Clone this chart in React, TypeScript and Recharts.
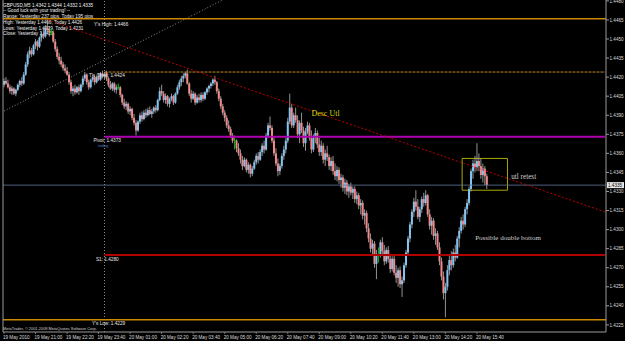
import React from "react";
import {
  ComposedChart,
  Bar,
  XAxis,
  YAxis,
  ReferenceLine,
  ReferenceDot,
  ReferenceArea,
} from "recharts";

// GBPUSD M5 candles, values in pips above 1.4200: [open, high, low, close]
const BASE = 1.42;
const PIP = 0.0001;

const eveningBars19May = [
  [214, 219, 212, 217], [217, 220, 214, 215], [215, 218, 211, 212], [212, 214, 207, 209], [209, 213, 206, 211],
  [211, 212, 206, 207], [207, 211, 205, 210], [210, 215, 209, 214], [214, 218, 212, 217], [217, 220, 213, 215],
  [215, 224, 214, 222], [222, 232, 221, 230], [230, 240, 228, 238], [238, 244, 235, 241], [241, 243, 236, 238],
  [238, 246, 237, 245], [245, 250, 242, 248], [248, 249, 241, 244], [244, 252, 243, 251], [251, 256, 248, 254],
  [254, 259, 250, 252], [252, 261, 251, 259], [259, 266, 255, 257], [257, 260, 252, 255], [255, 258, 253, 255],
  [255, 256, 247, 248], [248, 250, 240, 242], [242, 244, 234, 236], [236, 239, 230, 233], [233, 236, 228, 230],
  [230, 232, 225, 227], [227, 230, 223, 225], [225, 228, 221, 222], [222, 224, 214, 216], [216, 218, 207, 209],
  [209, 213, 205, 211], [211, 214, 206, 208], [208, 213, 207, 212], [212, 214, 206, 209], [209, 215, 208, 214],
  [214, 221, 212, 219], [219, 224, 217, 222], [222, 223, 214, 216], [216, 218, 210, 212], [212, 219, 211, 218],
  [218, 222, 216, 220], [220, 221, 214, 216], [216, 221, 215, 220], [220, 223, 217, 218], [218, 224, 217, 223],
  [223, 225, 219, 221], [221, 224, 218, 222],
];

const asiaBars20May = [
  [224, 225, 217, 219], [219, 220, 212, 214], [214, 217, 210, 211], [211, 216, 209, 215], [215, 216, 208, 210],
  [210, 214, 207, 212], [212, 215, 210, 212], [212, 213, 204, 206],
  [206, 207, 198, 200], [200, 203, 195, 197], [197, 201, 194, 199], [199, 200, 191, 193], [193, 197, 190, 195],
  [195, 196, 186, 188], [188, 191, 182, 184], [184, 186, 174, 178], [178, 186, 177, 185], [185, 192, 183, 190],
  [190, 193, 185, 187], [187, 194, 186, 192], [192, 195, 188, 190], [190, 196, 189, 194], [194, 197, 190, 191],
  [191, 195, 188, 193], [193, 197, 191, 196], [196, 198, 192, 194], [194, 203, 193, 202], [202, 212, 201, 209],
  [209, 214, 205, 207], [207, 209, 200, 202], [202, 207, 199, 205], [205, 206, 197, 199], [199, 204, 196, 203],
  [203, 207, 201, 205], [205, 206, 198, 200], [200, 208, 199, 207], [207, 214, 206, 212], [212, 218, 210, 216],
  [216, 221, 213, 219], [219, 223, 216, 221], [221, 224, 219, 223], [223, 226, 214, 215], [215, 216, 205, 207],
  [207, 210, 200, 203], [203, 209, 202, 207], [207, 208, 198, 200], [200, 206, 199, 204], [204, 207, 200, 202],
  [202, 208, 200, 206], [206, 208, 201, 203], [203, 209, 202, 208], [208, 212, 206, 211], [211, 214, 208, 213],
  [213, 216, 211, 215], [215, 219, 213, 218], [218, 221, 214, 216], [216, 217, 207, 209], [209, 211, 201, 203],
  [203, 205, 195, 197], [197, 199, 190, 192], [192, 194, 185, 188], [188, 190, 180, 182], [182, 186, 177, 179],
  [179, 181, 172, 174], [174, 176, 168, 170], [170, 174, 163, 170], [170, 171, 161, 164], [164, 168, 158, 160],
];

const londonBars20May = [
  [160, 163, 152, 155], [155, 158, 147, 150], [150, 157, 149, 155], [155, 156, 145, 147], [147, 153, 144, 151],
  [151, 152, 141, 144], [144, 150, 142, 148], [148, 155, 147, 153], [153, 160, 151, 158], [158, 161, 152, 155],
  [155, 163, 154, 161], [161, 168, 158, 166], [166, 170, 160, 163], [163, 176, 162, 174], [174, 184, 172, 182],
  [182, 189, 178, 180], [180, 182, 168, 170], [170, 173, 158, 160], [160, 164, 150, 152], [152, 156, 142, 146],
  [146, 152, 143, 150], [150, 160, 148, 158], [158, 166, 155, 163], [163, 172, 160, 170], [170, 188, 168, 185],
  [185, 207, 183, 196], [196, 199, 180, 182], [182, 192, 180, 190], [190, 196, 184, 186], [186, 190, 172, 175],
  [175, 186, 168, 184], [184, 192, 176, 178], [178, 181, 165, 168], [168, 180, 162, 177], [177, 185, 175, 182],
  [182, 184, 170, 172], [172, 178, 160, 163], [163, 175, 161, 172], [172, 180, 168, 176], [176, 178, 164, 167],
  [167, 172, 158, 161], [161, 170, 158, 166], [166, 168, 152, 155], [155, 163, 150, 160], [160, 166, 154, 157],
  [157, 159, 147, 150], [150, 157, 146, 154], [154, 158, 143, 146], [146, 152, 139, 142], [142, 150, 138, 147],
  [147, 149, 136, 139], [139, 144, 133, 141], [141, 143, 130, 133], [133, 140, 128, 137], [137, 139, 127, 130],
  [130, 136, 125, 134], [134, 137, 127, 129], [129, 134, 124, 132], [132, 134, 121, 124], [124, 130, 120, 127],
  [127, 129, 116, 119], [119, 124, 112, 121], [121, 123, 108, 111], [111, 116, 104, 113], [113, 115, 98, 101],
  [101, 105, 90, 93], [93, 97, 82, 85], [85, 92, 80, 89], [89, 91, 70, 73], [73, 84, 61, 80],
  [80, 86, 74, 80], [80, 92, 78, 90], [90, 94, 80, 83], [83, 88, 72, 75], [75, 86, 73, 84],
  [84, 87, 74, 77], [77, 81, 66, 69], [69, 79, 67, 77], [77, 80, 64, 66], [66, 72, 58, 62],
];

const nyBars20May = [
  [62, 70, 55, 68], [68, 71, 54, 57], [57, 63, 47, 60], [60, 74, 58, 72], [72, 84, 70, 82],
  [82, 95, 80, 93], [93, 106, 90, 104], [104, 116, 101, 114], [114, 125, 110, 122], [122, 131, 115, 118],
  [118, 124, 108, 110], [110, 118, 106, 116], [116, 126, 113, 124], [124, 129, 118, 121], [121, 131, 119, 127],
  [127, 128, 110, 112], [112, 116, 100, 103], [103, 110, 96, 107], [107, 109, 92, 95], [95, 101, 88, 97],
  [97, 99, 84, 86], [86, 90, 72, 75], [75, 78, 60, 63], [63, 67, 45, 50], [50, 58, 31, 55],
  [55, 72, 52, 68], [68, 80, 64, 76], [76, 83, 68, 72], [72, 85, 70, 82], [82, 88, 75, 78],
  [78, 95, 77, 93], [93, 102, 86, 99], [99, 110, 97, 107], [107, 112, 100, 104], [104, 118, 102, 116],
  [116, 124, 112, 121], [121, 134, 119, 132], [132, 148, 130, 146], [146, 155, 140, 152], [152, 158, 145, 149],
  [149, 168, 146, 154], [154, 160, 146, 150], [150, 156, 140, 143], [143, 152, 137, 148], [148, 150, 135, 142],
  [142, 144, 132, 135],
];

const totalSlots = 306; // bars + empty right-hand shift

const timeTicks = [0, 16, 32, 48, 64, 80, 96, 112, 128, 144, 160, 176, 192, 208, 224, 240];
const timeLabels = [
  "19 May 2010", "19 May 21:00", "19 May 22:20", "19 May 23:40", "20 May 01:00", "20 May 02:20",
  "20 May 03:40", "20 May 05:00", "20 May 06:20", "20 May 07:40", "20 May 09:00", "20 May 10:20",
  "20 May 11:40", "20 May 13:00", "20 May 14:20", "20 May 15:40",
];

const priceTicks = [
  1.4225, 1.424, 1.4255, 1.427, 1.4285, 1.43, 1.4315, 1.433, 1.4345, 1.436, 1.4375, 1.439,
  1.4405, 1.442, 1.4435, 1.445, 1.4465, 1.448,
];
const priceDomain = [1.42194, 1.44807];

const yesterdayHigh = 1.4466;
const yesterdayLow = 1.4229;
const todayOpen = 1.4424;
const pivot = 1.4373;
const s1 = 1.428;
const lastPrice = 1.4335;
const todayStart = 51;
const lastSlot = 305;

const descTrend = [{ x: 22, y: 1.4465 }, { x: 305, y: 1.43139 }];
const grayTrend = [{ x: 0, y: 1.43933 }, { x: 111, y: 1.44807 }];
const retestBox = { x1: 233, x2: 255, y1: 1.4331, y2: 1.4356 };

const infoLines = [
  "GBPUSD,M5  1.4342 1.4344 1.4332 1.4335",
  "-- Good luck with your trading! --",
  "Range: Yesterday 237 pips, Today 195 pips",
  "High: Yesterday 1.4466, Today 1.4426",
  "Lows: Yesterday 1.4229, Today 1.4231",
  "Close: Yesterday 1.4425",
];

const allBars = [...eveningBars19May, ...asiaBars20May, ...londonBars20May, ...nyBars20May];
const data = Array.from({ length: totalSlots }, (_, i) => {
  const b = allBars[i];
  if (!b) return { i };
  return { i, o: BASE + b[0] * PIP, h: BASE + b[1] * PIP, l: BASE + b[2] * PIP, c: BASE + b[3] * PIP };
});

const SANS = "Liberation Sans, Arial, sans-serif";
const SERIF = "Liberation Serif, Times New Roman, serif";
const BULL = "#84c4f2";
const BEAR = "#f28a8a";
const DOJI = "#00c000";
const WICK = "#b8b8b8";
const FRAME = "#9a9a9a";

function Candle(props: any) {
  const { x, y, width, height, payload } = props;
  if (!payload || payload.h == null) return null;
  const { o, h, l, c } = payload;
  const top = Math.min(y, y + height);
  const hh = Math.abs(height);
  const k = h - l > 0 ? hh / (h - l) : 0;
  const cx = x + width / 2;
  const bTop = top + (h - Math.max(o, c)) * k;
  const bBot = top + (h - Math.min(o, c)) * k;
  if (o === c) {
    return (
      <g>
        <line x1={cx} x2={cx} y1={top} y2={top + hh} stroke={DOJI} strokeWidth={1} />
        <line x1={cx - 1} x2={cx + 1} y1={bTop} y2={bTop} stroke={DOJI} strokeWidth={0.8} />
      </g>
    );
  }
  return (
    <g>
      <line x1={cx} x2={cx} y1={top} y2={top + hh} stroke={WICK} strokeWidth={0.8} />
      <rect x={cx - 1} y={bTop} width={2} height={Math.max(0.8, bBot - bTop)} fill={c > o ? BULL : BEAR} />
    </g>
  );
}

const noteShape =
  (text: string, dx: number, dy: number, fill: string, size: number, family: string) =>
  (p: any) =>
    (
      <text x={p.cx + dx} y={p.cy + dy} fill={fill} fontSize={size} fontFamily={family}>
        {text}
      </text>
    );

function TimeTick(props: any) {
  const { x, y, payload } = props;
  const idx = timeTicks.indexOf(payload.value);
  if (idx < 0) return null;
  return (
    <g>
      <line x1={x} x2={x} y1={y} y2={y + 2} stroke={FRAME} strokeWidth={0.7} />
      <text x={x - 1} y={y + 7} fontSize={4.6} fill="#dcdcdc" fontFamily={SANS}>
        {timeLabels[idx]}
      </text>
    </g>
  );
}

const PriceTag = (props: any) => {
  const vb = props.viewBox;
  const x = vb.x + vb.width + 1;
  return (
    <g>
      <rect x={x} y={vb.y - 3} width={17} height={6} fill="#e6e6e6" />
      <text x={x + 1} y={vb.y + 1.7} fontSize={4.6} fill="#000" fontFamily={SANS}>
        {lastPrice.toFixed(4)}
      </text>
    </g>
  );
};

export default function App() {
  return (
    <div style={{ position: "absolute", left: 0, top: 0, width: 625, height: 341, background: "#000", overflow: "hidden" }}>
      <svg width={625} height={341} style={{ position: "absolute", left: 0, top: 0 }}>
        {infoLines.map((t, k) => (
          <text key={k} x={3} y={6.7 + k * 5.7} fontSize={4.7} fill="#f0f0f0" fontFamily={SANS}>
            {t}
          </text>
        ))}
        <text x={3} y={329.8} fontSize={3.9} fill="#d0d0d0" fontFamily={SANS}>
          MetaTrader, © 2001-2009 MetaQuotes Software Corp.
        </text>
      </svg>
      <div style={{ position: "absolute", left: 0, top: 0 }}>
        <ComposedChart
          width={625}
          height={341}
          data={data}
          margin={{ top: 0, right: 0, bottom: 0, left: 1 }}
          barCategoryGap={0}
          barGap={0}
        >
          <XAxis
            dataKey="i"
            type="category"
            ticks={timeTicks}
            interval={0}
            height={9}
            tickSize={0}
            tickMargin={0}
            tickLine={false}
            axisLine={{ stroke: FRAME }}
            tick={<TimeTick />}
          />
          <YAxis yAxisId="frame" orientation="left" width={2} domain={[0, 1]} tick={false} tickLine={false} axisLine={{ stroke: FRAME }} />
          <YAxis
            yAxisId="p"
            orientation="right"
            width={19}
            type="number"
            domain={priceDomain}
            allowDataOverflow
            ticks={priceTicks}
            interval={0}
            tickSize={3}
            tickMargin={0.5}
            tickLine={{ stroke: FRAME }}
            axisLine={{ stroke: FRAME }}
            tickFormatter={(v: number) => v.toFixed(4)}
            tick={{ fontSize: 4.6, fill: "#dcdcdc", fontFamily: SANS, textAnchor: "start" }}
          />
          <ReferenceLine yAxisId="p" x={todayStart} stroke="#8c8c8c" strokeDasharray="1 2" />
          <ReferenceLine yAxisId="p" segment={grayTrend} stroke="#8a8a8a" strokeDasharray="1 2" />
          <ReferenceDot yAxisId="p" x={todayStart} y={yesterdayHigh} r={1} shape={noteShape("Y's High: 1.4466", -10.5, 7, "#e8e8e8", 4.7, SANS)} />
          <ReferenceDot yAxisId="p" x={todayStart} y={todayOpen} r={1} shape={noteShape("T's Open: 1.4424", -15.5, 4.5, "#e8e8e8", 4.7, SANS)} />
          <ReferenceDot yAxisId="p" x={todayStart} y={pivot} r={1} shape={noteShape("Pivot: 1.4373", -11, 4.8, "#e8e8e8", 4.7, SANS)} />
          <ReferenceDot yAxisId="p" x={todayStart} y={pivot} r={1} shape={noteShape("today", -6.5, 10.5, "#4a7fc0", 4.3, SANS)} />
          <ReferenceDot yAxisId="p" x={todayStart} y={s1} r={1} shape={noteShape("S1: 1.4280", -8.5, 5.5, "#e8e8e8", 4.7, SANS)} />
          <ReferenceDot yAxisId="p" x={todayStart} y={yesterdayLow} r={1} shape={noteShape("Y's Low: 1.4229", -12.5, 5.6, "#e8e8e8", 4.7, SANS)} />
          <Bar
            yAxisId="p"
            dataKey={(d: any) => (d.h == null ? undefined : [d.l, d.h])}
            shape={<Candle />}
            isAnimationActive={false}
          />
          <ReferenceLine yAxisId="p" y={yesterdayHigh} stroke="#cc8800" strokeWidth={1.5} />
          <ReferenceLine yAxisId="p" y={yesterdayLow} stroke="#cc8800" strokeWidth={1.5} />
          <ReferenceLine
            yAxisId="p"
            segment={[{ x: todayStart, y: todayOpen }, { x: lastSlot, y: todayOpen }]}
            stroke="#c08a20"
            strokeDasharray="3 1"
          />
          <ReferenceLine
            yAxisId="p"
            segment={[{ x: todayStart, y: pivot }, { x: lastSlot, y: pivot }]}
            stroke="#b000b0"
            strokeWidth={2}
          />
          <ReferenceLine
            yAxisId="p"
            segment={[{ x: todayStart, y: s1 }, { x: lastSlot, y: s1 }]}
            stroke="#b00000"
            strokeWidth={2}
          />
          <ReferenceLine yAxisId="p" y={lastPrice} stroke="#66779a" strokeWidth={0.8} label={<PriceTag />} />
          <ReferenceLine yAxisId="p" segment={descTrend} stroke="#c00000" strokeDasharray="2 2" />
          <ReferenceArea
            yAxisId="p"
            x1={retestBox.x1}
            x2={retestBox.x2}
            y1={retestBox.y1}
            y2={retestBox.y2}
            fill="none"
            fillOpacity={0}
            stroke="#a8a800"
            strokeWidth={1}
          />
          <ReferenceDot yAxisId="p" x={156} y={1.439} r={1} shape={noteShape("Desc Utl", 0, 0.8, "#d8d800", 8, SERIF)} />
          <ReferenceDot yAxisId="p" x={257} y={1.434} r={1} shape={noteShape("utl retest", 0.8, 0, "#d0d0d0", 7.2, SERIF)} />
          <ReferenceDot yAxisId="p" x={239} y={1.4292} r={1} shape={noteShape("Possible double bottom", 0.2, 0, "#d0d0d0", 7, SERIF)} />
        </ComposedChart>
      </div>
    </div>
  );
}
